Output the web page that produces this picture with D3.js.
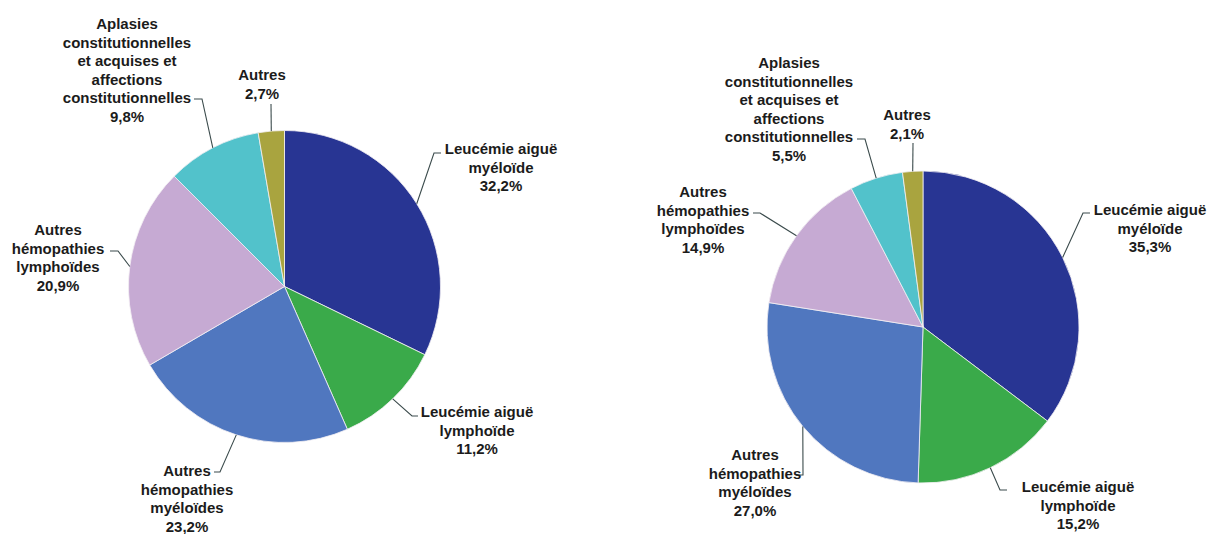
<!DOCTYPE html>
<html>
<head>
<meta charset="utf-8">
<script src="https://cdn.jsdelivr.net/npm/d3@7"></script>
<style>
  body { margin: 0; background: #fff; }
  svg text { font-family: "Liberation Sans", Arial, sans-serif; font-weight: bold; font-size: 15px; fill: #1b1b1b; }
</style>
</head>
<body>
<script>
const config = {
  width: 1208,
  height: 534
};

// Categories (clockwise from 12 o'clock)
const categories = [
  ["Leucémie aiguë", "myéloïde"],
  ["Leucémie aiguë", "lymphoïde"],
  ["Autres", "hémopathies", "myéloïdes"],
  ["Autres", "hémopathies", "lymphoïdes"],
  ["Aplasies", "constitutionnelles", "et acquises et", "affections", "constitutionnelles"],
  ["Autres"]
];
const leftValues = [32.2, 11.2, 23.2, 20.9, 9.8, 2.7];
const rightValues = [35.3, 15.2, 27.0, 14.9, 5.5, 2.1];

const colors = ["#283593", "#3aaa4a", "#5077bf", "#c6aad3", "#52c2cb", "#a9a43f"];

// label layout: text centre x, first baseline y, elbow point, line end point
const leftLabels = [
  { x: 501, y: 154, elbow: [434, 153], end: [441, 153] },
  { x: 477, y: 417, elbow: [412, 416], end: [418, 416] },
  { x: 187, y: 476, elbow: [220, 472], end: [214, 472] },
  { x: 58, y: 235, elbow: [118, 251], end: [110, 251] },
  { x: 127, y: 29, elbow: [202, 99], end: [194, 99] },
  { x: 262, y: 80, elbow: [271, 104], end: [271, 104] }
];
const rightLabels = [
  { x: 1150, y: 215, elbow: [1083, 213], end: [1090, 213] },
  { x: 1078, y: 492, elbow: [1000, 490], end: [1007, 490] },
  { x: 755, y: 460, elbow: [803, 475], end: [796, 475] },
  { x: 703, y: 197, elbow: [760, 213], end: [753, 213] },
  { x: 789, y: 68, elbow: [865, 139], end: [857, 139] },
  { x: 907, y: 120, elbow: [913, 143], end: [913, 143] }
];

const lineHeight = 18.6;
const radius = 156;
const fmt = v => d3.format(".1f")(v).replace(".", ",") + "%";

const svg = d3
  .select("body")
  .append("svg")
  .attr("width", config.width)
  .attr("height", config.height);

const pie = d3.pie().sort(null).value(d => d);
const arc = d3.arc().innerRadius(0).outerRadius(radius);

function drawPie(values, labels, cx, cy) {
  const arcs = pie(values);
  const g = svg.append("g").attr("transform", `translate(${cx},${cy})`);

  g.selectAll("path")
    .data(arcs)
    .enter()
    .append("path")
    .attr("d", arc)
    .attr("fill", (d, i) => colors[i])
    .attr("stroke", "#f4f0f4")
    .attr("stroke-width", 0.8);

  // leader lines from slice mid-angle on the rim
  arcs.forEach((d, i) => {
    const a = (d.startAngle + d.endAngle) / 2;
    const px = cx + radius * Math.sin(a);
    const py = cy - radius * Math.cos(a);
    const l = labels[i];
    svg.append("polyline")
      .attr("points", [[px, py], l.elbow, l.end].map(p => p.join(",")).join(" "))
      .attr("fill", "none")
      .attr("stroke", "#3b4b4c")
      .attr("stroke-width", 1.1);
  });

  // labels
  arcs.forEach((d, i) => {
    const l = labels[i];
    const lines = categories[i].concat([fmt(values[i])]);
    const t = svg.append("text")
      .attr("text-anchor", "middle")
      .attr("x", l.x)
      .attr("y", l.y);
    lines.forEach((s, k) => {
      t.append("tspan")
        .attr("x", l.x)
        .attr("dy", k === 0 ? 0 : lineHeight)
        .text(s);
    });
  });
}

drawPie(leftValues, leftLabels, 284.5, 286.5);
drawPie(rightValues, rightLabels, 923, 327);
</script>
</body>
</html>
